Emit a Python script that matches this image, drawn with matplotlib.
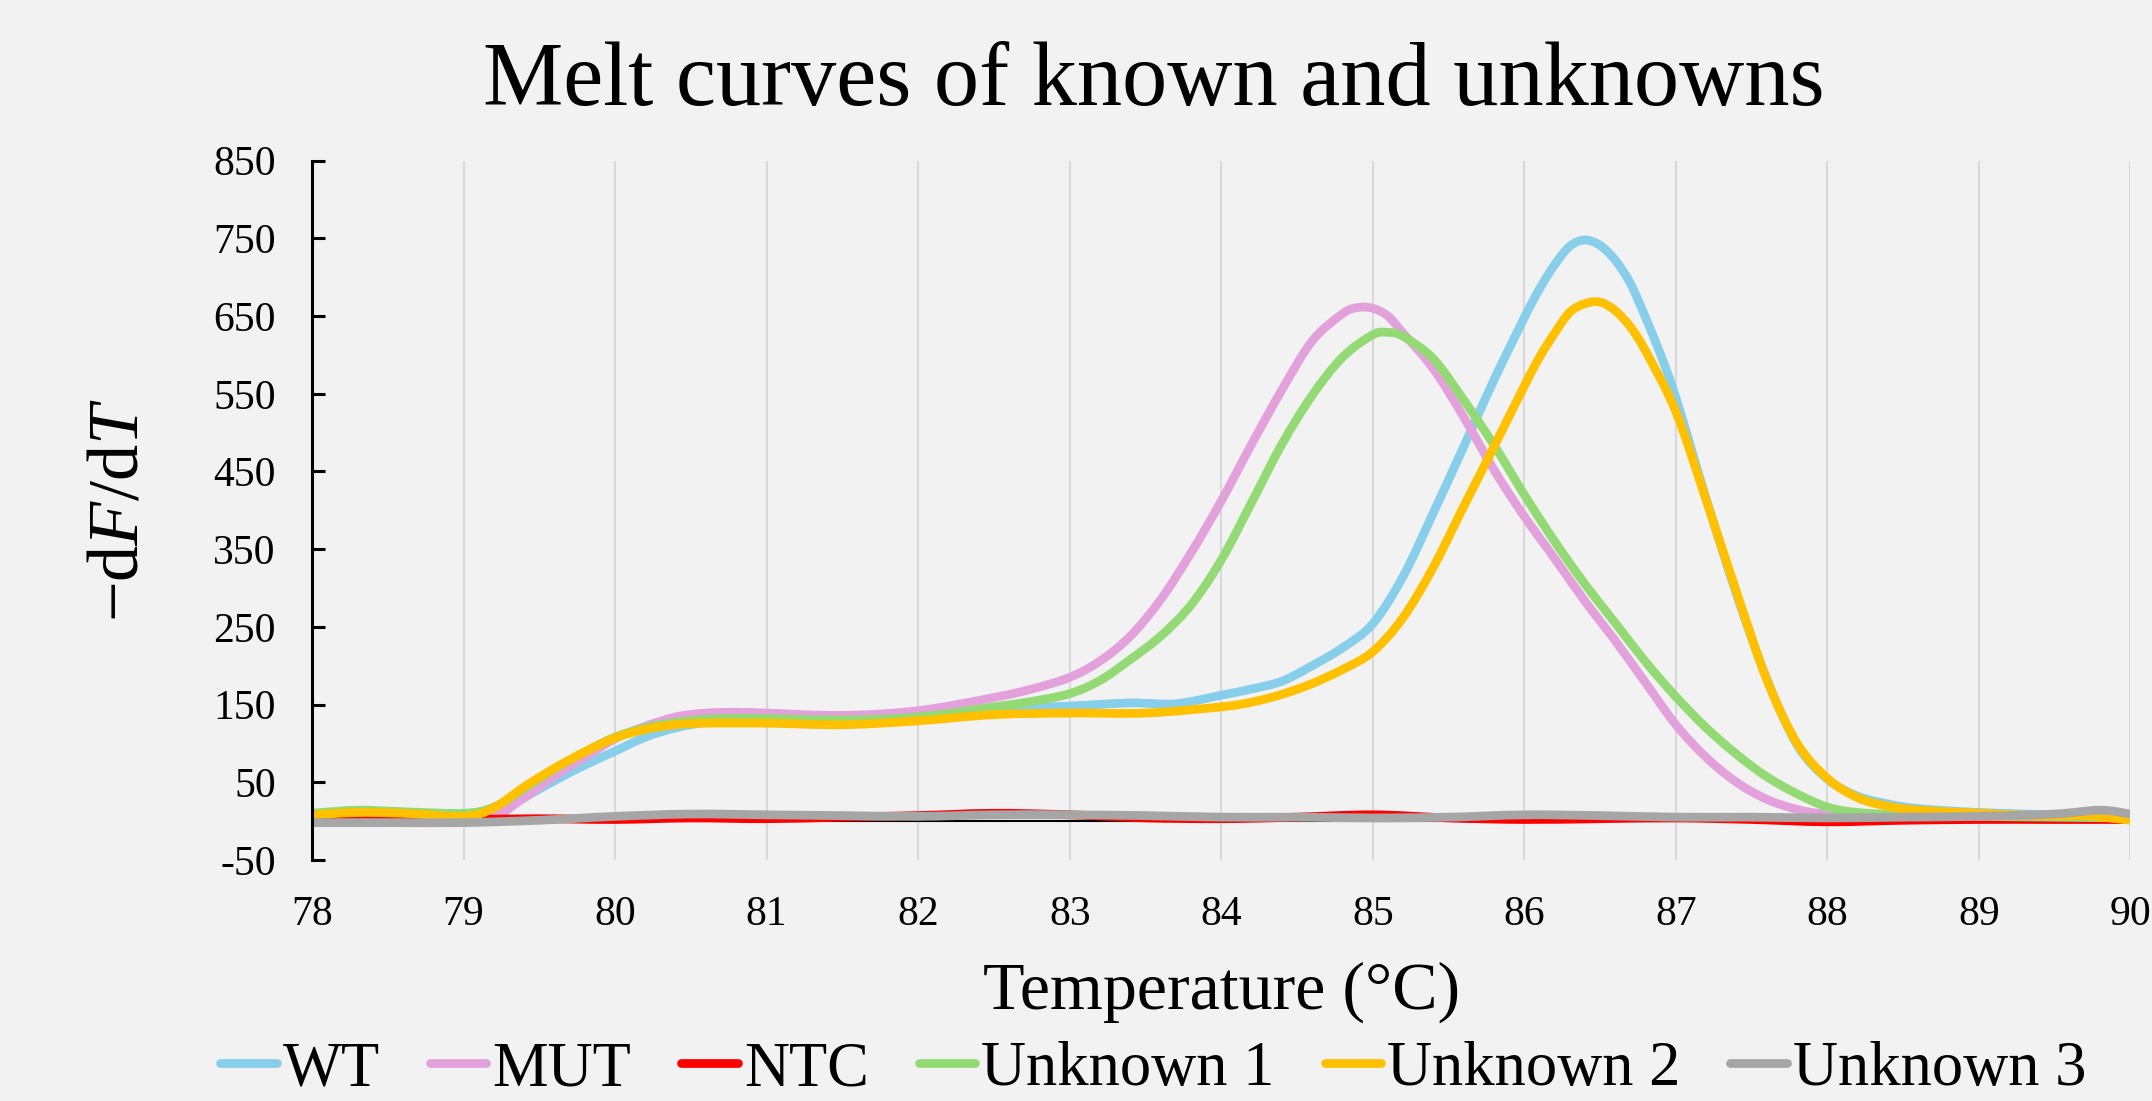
import matplotlib
matplotlib.use("Agg")
import matplotlib.pyplot as plt
import numpy as np
from matplotlib.lines import Line2D
from matplotlib.patches import PathPatch
from matplotlib.path import Path

# melt curve readings, -dF/dT against temperature (C)
wt_temp = [78.0, 78.5, 79.0, 79.2, 79.4, 79.6, 79.8, 80.0, 80.2, 80.4, 80.6, 80.8, 81.0, 81.5, 82.0, 82.5,
           83.0, 83.4, 83.7, 84.0, 84.2, 84.4, 84.6, 84.8, 85.0, 85.2, 85.4, 85.6, 85.8, 86.0, 86.1, 86.2,
           86.3, 86.4, 86.5, 86.6, 86.7, 86.8, 86.9, 87.0, 87.2, 87.4, 87.6, 87.8, 88.0, 88.2, 88.4, 88.6,
           89.0, 89.5, 90.0]
wt = [5, 5, 4, 8, 30, 52, 72, 90, 108, 120, 127, 129, 129, 128, 133, 144,
      148, 152, 151, 162, 170, 180, 200, 223, 254, 315, 397, 482, 568, 648, 685, 716,
      740, 748, 741, 722, 692, 648, 600, 545, 415, 292, 183, 98, 54, 32, 22, 16,
      11, 8, 5]

mut_temp = [78.0, 78.5, 79.0, 79.2, 79.4, 79.6, 79.8, 80.0, 80.2, 80.4, 80.6, 80.8, 81.0, 81.5, 82.0, 82.5,
            82.75, 83.0, 83.2, 83.4, 83.6, 83.8, 84.0, 84.2, 84.4, 84.6, 84.8, 84.9, 85.0, 85.1, 85.2, 85.4,
            85.6, 85.8, 86.0, 86.2, 86.4, 86.6, 86.8, 87.0, 87.2, 87.4, 87.6, 87.8, 88.0, 88.5, 89.0, 90.0]
mut = [0, 0, 0, 5, 30, 58, 82, 106, 122, 134, 139, 140, 139, 136, 142, 159,
       170, 185, 206, 238, 285, 345, 412, 485, 555, 618, 653, 661, 660, 650, 628, 582,
       520, 452, 392, 338, 283, 232, 178, 124, 82, 50, 28, 15, 9, 5, 4, 3]

ntc_temp = [78.0, 78.5, 79.0, 79.5, 80.0, 80.5, 81.0, 81.5, 82.0, 82.5, 83.0, 83.5, 84.0, 84.5, 85.0, 85.5,
            86.0, 86.5, 87.0, 87.5, 88.0, 88.5, 89.0, 89.5, 90.0]
ntc = [3, 2, 2, 3, 2, 4, 3, 5, 7, 10, 8, 4, 3, 5, 8, 4,
       2, 3, 4, 2, -1, 1, 2, 2, 2]

u1_temp = [78.0, 78.3, 78.6, 79.0, 79.2, 79.4, 79.6, 79.8, 80.0, 80.2, 80.4, 80.6, 80.8, 81.0, 81.5, 82.0,
           82.5, 82.75, 83.0, 83.2, 83.4, 83.6, 83.8, 84.0, 84.2, 84.4, 84.6, 84.8, 85.0, 85.1, 85.2, 85.4,
           85.6, 85.8, 86.0, 86.2, 86.4, 86.6, 86.8, 87.0, 87.2, 87.4, 87.6, 87.8, 88.0, 88.2, 88.5, 89.0,
           90.0]
u1 = [10, 14, 12, 10, 18, 42, 67, 89, 108, 120, 127, 131, 132, 132, 130, 134,
      147, 154, 164, 181, 208, 238, 278, 336, 410, 485, 548, 597, 626, 629, 624, 595,
      542, 484, 420, 360, 305, 255, 205, 160, 120, 86, 57, 35, 18, 11, 8, 6,
      4]

u2_temp = [78.0, 78.3, 78.6, 79.0, 79.2, 79.4, 79.6, 79.8, 80.0, 80.2, 80.4, 80.6, 81.0, 81.5, 82.0, 82.5,
           83.0, 83.5, 84.0, 84.2, 84.4, 84.6, 84.8, 85.0, 85.2, 85.4, 85.6, 85.8, 86.0, 86.1, 86.2, 86.3,
           86.4, 86.5, 86.6, 86.7, 86.8, 87.0, 87.2, 87.4, 87.6, 87.8, 88.0, 88.2, 88.4, 88.6, 89.0, 89.4,
           89.7, 90.0]
u2 = [8, 11, 10, 6, 17, 44, 68, 89, 107, 118, 124, 126, 126, 124, 129, 137,
      139, 139, 147, 153, 163, 177, 195, 218, 262, 327, 405, 482, 560, 597, 628, 655,
      666, 668, 657, 636, 605, 527, 413, 295, 182, 100, 55, 30, 19, 14, 10, 7,
      7, 1]

u3_temp = [78.0, 78.5, 79.0, 79.5, 80.0, 80.5, 81.0, 81.5, 82.0, 82.5, 83.0, 83.5, 84.0, 84.5, 85.0, 85.5,
           86.0, 86.5, 87.0, 87.5, 88.0, 88.5, 89.0, 89.5, 89.8, 90.0]
u3 = [-2, -2, -2, 1, 6, 9, 8, 7, 6, 8, 8, 7, 5, 5, 4, 5,
      8, 7, 5, 5, 4, 5, 6, 9, 14, 9]

labels = ["WT", "MUT", "NTC", "Unknown 1", "Unknown 2", "Unknown 3"]
colors = ["#87CEEB", "#E3A1DC", "#FF0000", "#93DA75", "#FFC000", "#A6A6A6"]
xticks = list(range(78, 91))
yticks = list(range(-50, 851, 100))


def smooth_line(ax, xs, ys, **kw):
    # spreadsheet-style smoothed line: cubic bezier through every reading
    p = np.column_stack([xs, ys]).astype(float)
    n = len(p)
    verts = [p[0]]
    codes = [Path.MOVETO]
    for i in range(n - 1):
        p0 = p[i - 1] if i > 0 else p[i]
        p1, p2 = p[i], p[i + 1]
        p3 = p[i + 2] if i + 2 < n else p[i + 1]
        verts += [p1 + (p2 - p0) / 6, p2 - (p3 - p1) / 6, p2]
        codes += [Path.CURVE4] * 3
    ax.add_patch(PathPatch(Path(verts, codes), fill=False, **kw))


def main():
    plt.rcParams['font.family'] = ['Liberation Serif', 'DejaVu Serif']
    plt.rcParams['mathtext.fontset'] = 'custom'
    plt.rcParams['mathtext.rm'] = 'Liberation Serif'
    plt.rcParams['mathtext.it'] = 'Liberation Serif:italic'
    plt.rcParams['axes.unicode_minus'] = False

    bg = "#F2F2F2"
    lw = 6.3
    fig = plt.figure(figsize=(21.52, 11.01), dpi=100, facecolor=bg)
    ax = fig.add_axes([0.145, 0.219, 0.845, 0.635], facecolor=bg)

    series = [(wt_temp, wt), (mut_temp, mut), (ntc_temp, ntc),
              (u1_temp, u1), (u2_temp, u2), (u3_temp, u3)]
    ax.axhline(0, color="black", lw=1.5, zorder=1.5)
    handles = []
    for (t, v), lab, c in zip(series, labels, colors):
        smooth_line(ax, t, v, edgecolor=c, lw=lw, joinstyle='round', capstyle='butt', zorder=2)
        handles.append(Line2D([], [], color=c, lw=lw, solid_capstyle='round', label=lab))

    ax.set_xlim(78, 90)
    ax.set_ylim(-50, 850)
    ax.set_xticks(xticks)
    ax.set_yticks(yticks)
    ax.grid(axis='x', color="#D9D9D9", lw=1.5)
    ax.set_axisbelow(True)
    for s in ['top', 'right', 'bottom']:
        ax.spines[s].set_visible(False)
    ax.spines['left'].set_linewidth(2.2)
    ax.tick_params(axis='y', direction='in', length=9, width=2.2, labelsize=30, pad=26)
    ax.tick_params(axis='x', length=0, labelsize=30, pad=26)

    fig.suptitle("Melt curves of known and unknowns", fontsize=65, x=0.536, y=0.9625)
    ax.set_xlabel("Temperature (°C)", fontsize=49)
    ax.xaxis.label.set_va('baseline')
    ax.xaxis.set_label_coords(0.5, -0.213)
    ax.set_ylabel(r"$-\mathrm{d}F/\mathrm{d}T$", fontsize=52)
    ax.yaxis.set_label_coords(-0.088, 0.5)

    fig.legend(handles=handles, loc='center', bbox_to_anchor=(0.536, 0.028), ncol=6,
               frameon=False, fontsize=45, handlelength=0.9, handletextpad=0.1,
               columnspacing=0.8, borderpad=0)

    fig.savefig("out.png", dpi=100, facecolor=bg)


if __name__ == "__main__":
    main()
